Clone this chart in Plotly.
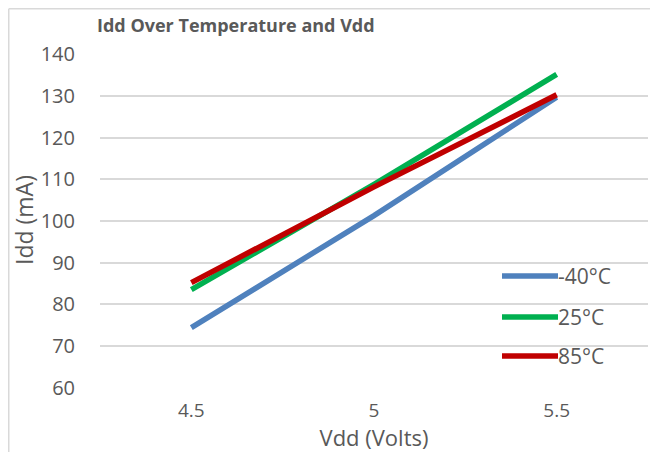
import plotly.graph_objects as go

vdd = ["4.5", "5", "5.5"]
series_names = ["-40°C", "25°C", "85°C"]
idd_m40 = [74.4, 101.3, 129.7]
idd_25 = [83.5, 108.8, 135.2]
idd_85 = [85.2, 108.2, 130.3]
colors = ["#4f81bd", "#00b050", "#c00000"]
y_ticks = [60, 70, 80, 90, 100, 110, 120, 130, 140]

# page body has an 8px margin: figure pixel = reference pixel - 8
OFF = 8
L, R, T, B = 100 - OFF, 648 - OFF, 54 - OFF, 388 - OFF
W, H = 658 - OFF, 452 - OFF
PW, PH = R - L, B - T

def px(x):
    return (x - OFF - L) / PW

def py(y):
    return (B - (y - OFF)) / PH

fig = go.Figure()
for name, vals, c in zip(series_names, [idd_m40, idd_25, idd_85], colors):
    fig.add_trace(go.Scatter(x=vdd, y=vals, mode="lines", name=name,
                             line=dict(color=c, width=5.5), showlegend=False))

font_fam = "Open Sans, Liberation Sans, sans-serif"
txt = "#595959"

# manual legend
for name, c, yy in zip(series_names, colors, [276, 317, 356]):
    fig.add_shape(type="line", xref="paper", yref="paper",
                  x0=px(502), x1=px(558), y0=py(yy), y1=py(yy),
                  line=dict(color=c, width=5.5))
    fig.add_annotation(xref="paper", yref="paper", x=px(556), y=py(yy), text=name,
                       showarrow=False, xanchor="left", yanchor="middle",
                       font=dict(size=21, color=txt, family=font_fam))

# y axis title
fig.add_annotation(xref="paper", yref="paper", x=px(24), y=py(220), text="Idd (mA)",
                   textangle=-90, showarrow=False, xanchor="center", yanchor="middle",
                   font=dict(size=23, color=txt, family=font_fam))

# outer border (left and top edges)
fig.add_shape(type="line", xref="paper", yref="paper",
              x0=(0.75 - L) / PW, x1=(0.75 - L) / PW, y0=(B - H) / PH, y1=(B - 0.75) / PH,
              line=dict(color="#d9d9d9", width=1.5))
fig.add_shape(type="line", xref="paper", yref="paper",
              x0=(0.75 - L) / PW, x1=(W - L) / PW, y0=(B - 0.75) / PH, y1=(B - 0.75) / PH,
              line=dict(color="#d9d9d9", width=1.5))

fig.update_layout(
    width=W, height=H,
    margin=dict(l=L, r=W - R, t=T, b=H - B, autoexpand=False),
    paper_bgcolor="white", plot_bgcolor="white",
    title=dict(text="<b>Idd Over Temperature and Vdd</b>", x=(97 - OFF) / W, xanchor="left",
               y=1 - (26 - OFF) / H, yanchor="middle",
               font=dict(size=18, color=txt, family=font_fam)),
    font=dict(family=font_fam, color=txt),
    xaxis=dict(type="category", range=[-0.5, 2.5], showgrid=False, zeroline=False,
               showline=False, ticks="", tickfont=dict(size=19, color=txt),
               ticklabelstandoff=9, automargin=False,
               title=dict(text="Vdd (Volts)", font=dict(size=22, color=txt), standoff=4)),
    yaxis=dict(range=[59.9, 140.1], tickvals=y_ticks, showgrid=True, gridcolor="#d9d9d9",
               gridwidth=2, zeroline=False, showline=False, ticks="",
               ticklabelstandoff=24, automargin=False,
               tickfont=dict(size=20, color=txt)),
)

fig.write_html("out.html")
